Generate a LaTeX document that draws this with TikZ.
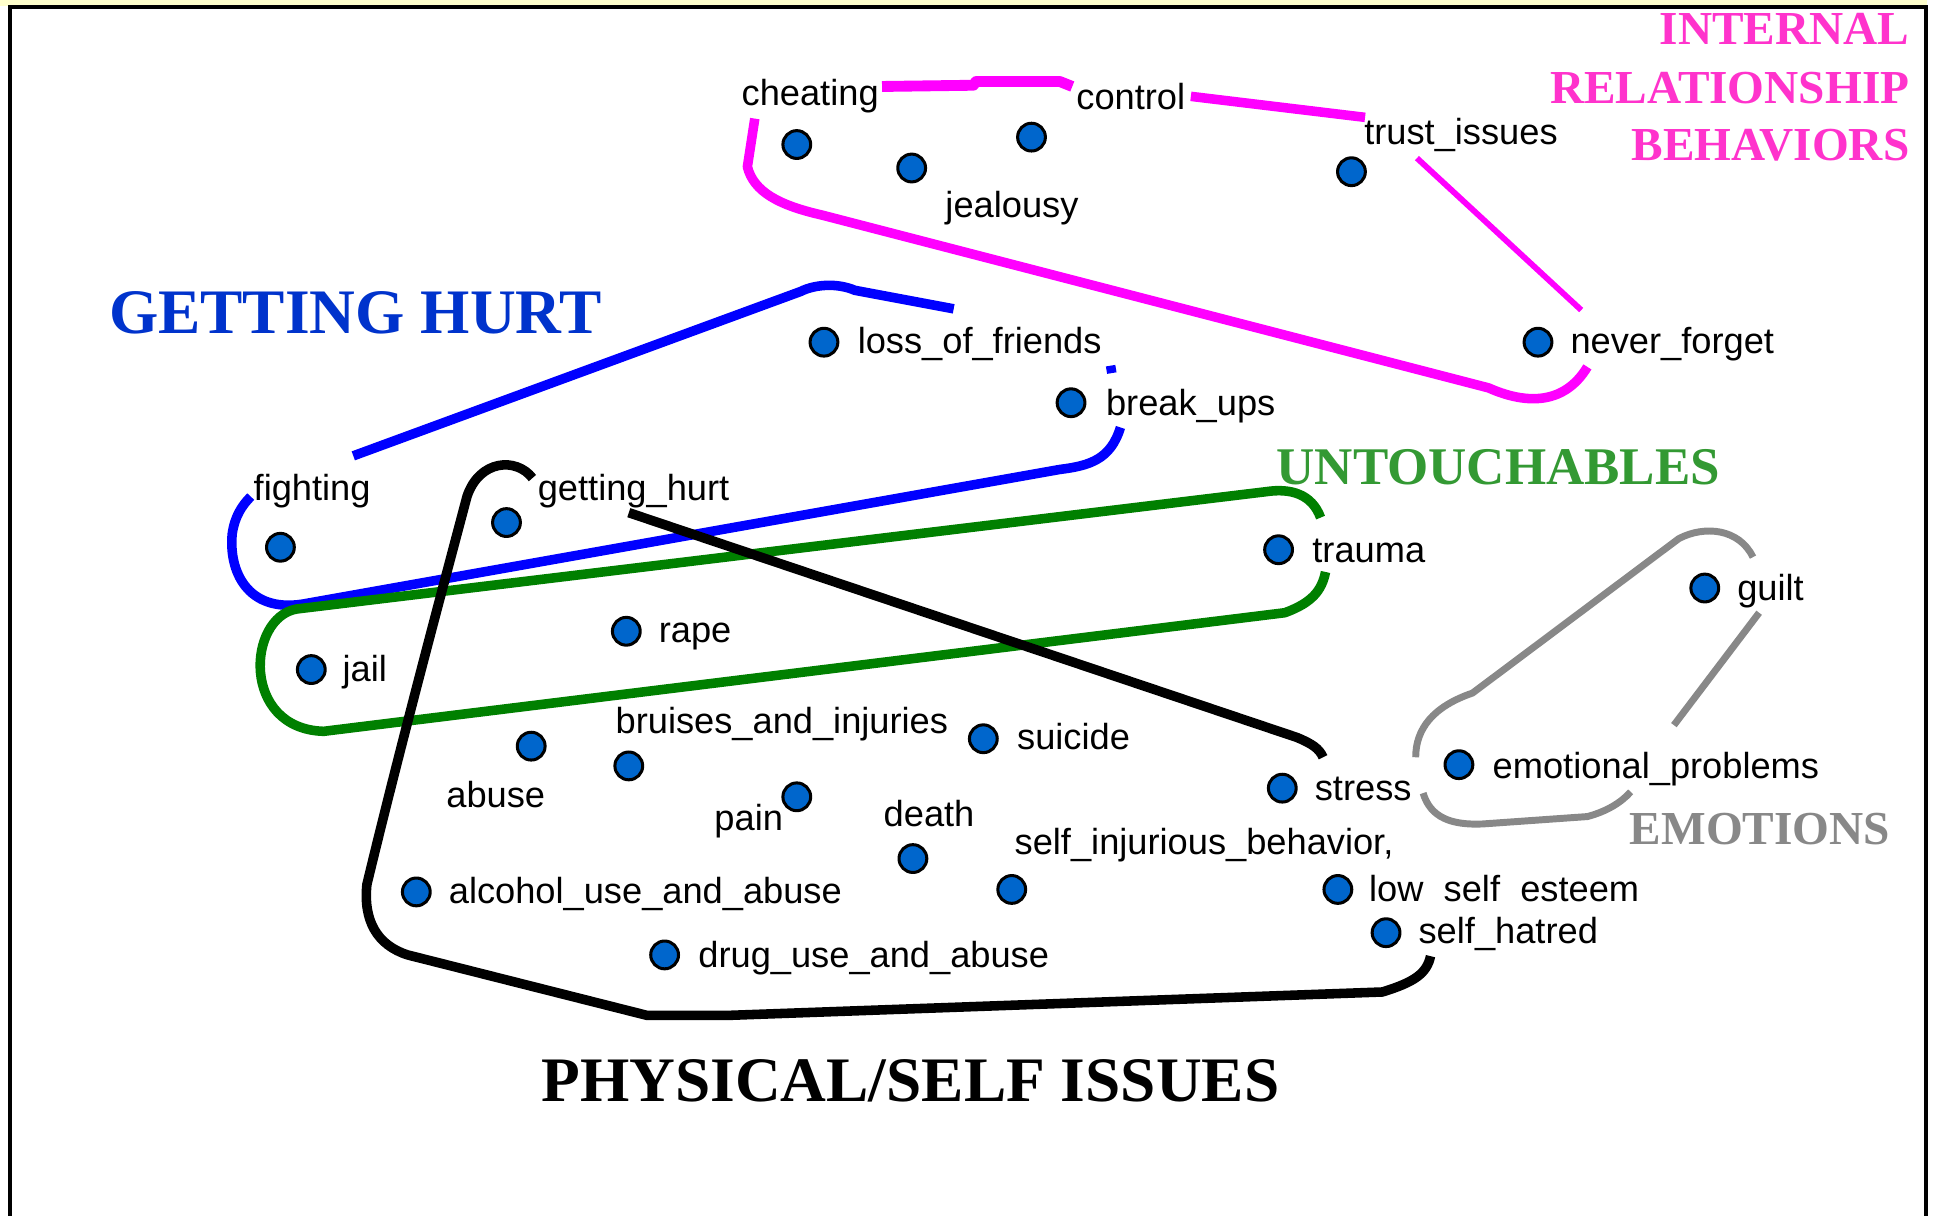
\documentclass[tikz,border=0pt]{standalone}
\usepackage{fontspec}
\setmainfont{Liberation Serif}
\newfontfamily\labfont{Liberation Sans}
\usetikzlibrary{shapes.geometric}
\definecolor{dotblue}{HTML}{0066CC}
\definecolor{mag}{HTML}{FF00FF}
\definecolor{pinktext}{HTML}{FF33CC}
\definecolor{hurtblue}{HTML}{0033CC}
\definecolor{loopblue}{HTML}{0000FF}
\definecolor{loopgreen}{HTML}{008000}
\definecolor{untgreen}{HTML}{339933}
\definecolor{emogray}{HTML}{888888}
\definecolor{bandyellow}{HTML}{FFFFCC}
\begin{document}
\begin{tikzpicture}[x=0.02cm,y=-0.02cm,
  dotnode/.style={circle,draw=black,line width=1.4pt,fill=dotblue,minimum size=0.45cm,inner sep=0pt},
  labtext/.style={anchor=base west,inner sep=0pt,font=\labfont\fontsize{16.7}{18}\selectfont},
  titletext/.style={anchor=base west,inner sep=0pt,font=\bfseries\fontsize{29.2}{32}\selectfont},
  midtitle/.style={inner sep=0pt,font=\bfseries\fontsize{21.8}{24}\selectfont},
  ringline/.style={line width=4.4pt,line join=round},
  grayline/.style={line width=3.2pt,line join=round,emogray},
]
\useasboundingbox (0,0) rectangle (1568,984);
\fill[white] (0,0) rectangle (1568,984);
\fill[bandyellow] (0,0) rectangle (1560,5);
\draw[line width=1.7pt] (8.2,984) -- (8.2,5.8) -- (1559,5.8) -- (1559,984);

% ---- group outlines ----
% internal relationship behaviors (magenta)
\draw[ringline,mag,line width=5pt] (714,70) -- (788,69) -- (790,66) -- (858,66) -- (868,70);
\draw[ringline,mag] (964,78) -- (1105,95);
\draw[ringline,mag] (611,96) -- (605,135) .. controls (610,155) and (630,166) .. (665,174) -- (1205,314) .. controls (1232,326) and (1265,330) .. (1285,297);
\draw[mag,line width=2.7pt] (1147,128) -- (1280,251);
% getting hurt (blue)
\draw[ringline,loopblue] (286,369) -- (648,236) .. controls (660,230) and (678,229) .. (692,235) -- (772,250);
\draw[ringline,loopblue] (899,296) -- (900,302);
\draw[ringline,loopblue] (907,346) .. controls (899,372) and (882,377) .. (858,380) -- (245,489) .. controls (200,496) and (185,462) .. (188,432) .. controls (190,418) and (196,409) .. (203,402);
% untouchables (green)
\draw[ringline,loopgreen] (1069,419) .. controls (1062,400) and (1045,395) .. (1025,398) -- (240,493) .. controls (200,500) and (195,590) .. (262,592) -- (1040,496) .. controls (1062,488) and (1070,478) .. (1073,463);
% physical/self issues (black)
\draw[ringline,black] (509,415) -- (1050,597) .. controls (1062,602) and (1068,606) .. (1071,613);
\draw[ringline,black] (431,387) .. controls (418,370) and (388,372) .. (378,402) .. controls (360,470) and (325,600) .. (297,716) .. controls (294,745) and (305,765) .. (330,773) -- (524,822) -- (588,822) -- (1119,803) .. controls (1145,795) and (1155,788) .. (1158,774);
% emotions (gray)
\draw[grayline] (1146,613) .. controls (1146,590) and (1160,572) .. (1192,561) -- (1359,436) .. controls (1380,425) and (1408,428) .. (1419,451);
\draw[grayline] (1424,496) -- (1355,587);
\draw[grayline] (1152,642) .. controls (1158,662) and (1175,668) .. (1200,667) -- (1285,661) .. controls (1300,657) and (1312,650) .. (1320,641);

% ---- points ----
\node[dotnode] (cheating) at (645,117) {};
\node[dotnode] (jealousy) at (738,136) {};
\node[dotnode] (control) at (835,111) {};
\node[dotnode] (trust) at (1094,139) {};
\node[dotnode] (neverforget) at (1245,277) {};
\node[dotnode] (lossfriends) at (667,277) {};
\node[dotnode] (breakups) at (867,326) {};
\node[dotnode] (fighting) at (227,443) {};
\node[dotnode] (gettinghurt) at (410,423) {};
\node[dotnode] (trauma) at (1035,445) {};
\node[dotnode] (guilt) at (1380,476) {};
\node[dotnode] (rape) at (507,511) {};
\node[dotnode] (jail) at (252,542) {};
\node[dotnode] (abuse) at (430,604) {};
\node[dotnode] (bruises) at (509,620) {};
\node[dotnode] (suicide) at (796,598) {};
\node[dotnode] (pain) at (645,645) {};
\node[dotnode] (death) at (739,695) {};
\node[dotnode] (stress) at (1038,638) {};
\node[dotnode] (emotional) at (1181,619) {};
\node[dotnode] (selfinj) at (819,720) {};
\node[dotnode] (alcohol) at (337,722) {};
\node[dotnode] (lowself) at (1083,720) {};
\node[dotnode] (selfhatred) at (1122,755) {};
\node[dotnode] (drug) at (538,773) {};

% ---- labels ----
\node[labtext] (cheatingL) at (600,85) {cheating};
\node[labtext] (jealousyL) at (765,176) {jealousy};
\node[labtext] (controlL) at (871,89) {control};
\node[labtext] (trustL) at (1104,117) {trust\_issues};
\node[labtext] (neverforgetL) at (1271,286) {never\_forget};
\node[labtext] (lossfriendsL) at (694,286) {loss\_of\_friends};
\node[labtext] (breakupsL) at (895,336) {break\_ups};
\node[labtext] (fightingL) at (205,405) {fighting};
\node[labtext] (gettinghurtL) at (435,405) {getting\_hurt};
\node[labtext] (traumaL) at (1062,455) {trauma};
\node[labtext] (guiltL) at (1406,486) {guilt};
\node[labtext] (rapeL) at (533,520) {rape};
\node[labtext] (jailL) at (277,552) {jail};
\node[labtext] (abuseL) at (361,654) {abuse};
\node[labtext] (bruisesL) at (498,594) {bruises\_and\_injuries};
\node[labtext] (suicideL) at (823,607) {suicide};
\node[labtext] (painL) at (578,672) {pain};
\node[labtext] (deathL) at (715,669) {death};
\node[labtext] (stressL) at (1064,648) {stress};
\node[labtext] (emotionalL) at (1208,630) {emotional\_problems};
\node[labtext] (selfinjL) at (821,692) {self\_injurious\_behavior,};
\node[labtext] (alcoholL) at (363,731) {alcohol\_use\_and\_abuse};
\node[labtext] (lowselfL) at (1108,730) {low\phantom{\_}self\phantom{\_}esteem};
\node[labtext] (selfhatredL) at (1148,764) {self\_hatred};
\node[labtext] (drugL) at (565,783) {drug\_use\_and\_abuse};

% ---- group titles ----
\node[titletext,text=hurtblue] (tHurt) at (88,270) {GETTING HURT};
\node[titletext,text=black] (tPhys) at (438,892) {PHYSICAL/SELF ISSUES};
\node[titletext,text=untgreen,font=\bfseries\fontsize{24.4}{26}\selectfont] (tUnt) at (1033,392) {UNTOUCHABLES};
\node[midtitle,anchor=base west,text=emogray] (tEmo) at (1319,684) {EMOTIONS};
\node[midtitle,anchor=base east,text=pinktext] (tInt1) at (1546,36) {INTERNAL};
\node[midtitle,anchor=base east,text=pinktext] (tInt2) at (1546,84) {RELATIONSHIP};
\node[midtitle,anchor=base east,text=pinktext] (tInt3) at (1546,130) {BEHAVIORS};
\end{tikzpicture}
\end{document}
